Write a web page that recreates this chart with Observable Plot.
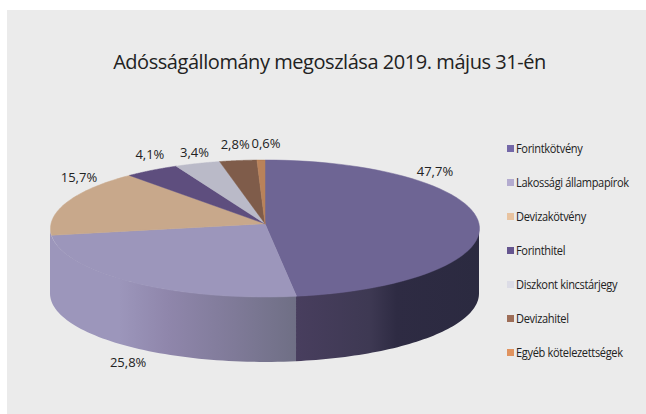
<!DOCTYPE html>
<html lang="hu">
<head>
<meta charset="utf-8">
<script src="https://cdn.jsdelivr.net/npm/d3@7"></script>
<script src="https://cdn.jsdelivr.net/npm/@observablehq/plot@0.6"></script>
<style>
  html, body { margin: 0; padding: 0; background: #fff; }
  #page { position: relative; width: 646px; height: 414px; overflow: hidden; font-family: "Open Sans", sans-serif; color: #222; }
  #panel { position: absolute; left: 7px; top: 10px; right: 0; bottom: 0; background: #ebebeb; }
  #chart { position: absolute; left: 0; top: 0; }
  #title { position: absolute; left: 13px; right: 0; top: 50px; margin: 0; text-align: center; font-size: 20px; font-weight: 400; line-height: 24px; letter-spacing: -0.45px; white-space: nowrap; }
  #legend { position: absolute; left: 507px; top: 131px; margin: 0; padding: 0; list-style: none; }
  #legend li { display: flex; align-items: center; height: 34px; font-size: 13px; letter-spacing: -0.4px; white-space: nowrap; }
  #legend i { display: block; flex: none; width: 7px; height: 7px; margin-right: 2px; }
  #legend span { display: inline-block; transform: scaleX(0.85); transform-origin: left center; }
</style>
</head>
<body>
<div id="page">
  <div id="panel"></div>
  <div id="chart"></div>
  <h1 id="title"></h1>
  <ul id="legend"></ul>
</div>
<script>
const title = "Adósságállomány megoszlása 2019. május 31-én";
const categories = ["Forintkötvény", "Lakossági állampapírok", "Devizakötvény", "Forinthitel", "Diszkont kincstárjegy", "Devizahitel", "Egyéb kötelezettségek"];
const values = [47.7, 25.8, 15.7, 4.1, 3.4, 2.8, 0.6];
const valueLabels = ["47,7%", "25,8%", "15,7%", "4,1%", "3,4%", "2,8%", "0,6%"];
const topColors = ["#6e6594", "#9c96bb", "#c8a88b", "#5e4e7e", "#babac8", "#7f5c4a", "#b9825a"];
const legendColors = ["#7468a8", "#b3abcf", "#e8c3a0", "#65558f", "#dcdce6", "#9e6e58", "#e0935f"];
// label nudge from the slice's mid-arc point, in pixels
const labelDx = [-44, -5, 12, -2, -3, -3, 5];
const labelDy = [-52, 15, -24, -15, -11, -16, -16];

// pie shape in unit space
const wallDepth = 0.955;
const apexY = 0.07;
const total = d3.sum(values);
const cum = d3.cumsum(values);
const ang = s => (s / total) * 2 * Math.PI;
const ends = Array.from(cum, ang);
const starts = [0, ...ends.slice(0, -1)];
const arcX = a => Math.sin(a);
const arcY = a => Math.cos(a);
const samples = (a0, a1) => d3.range(0, 61).map(i => a0 + (a1 - a0) * i / 60);

const topRows = categories.flatMap((c, i) => [
  {c, px: 0, py: apexY},
  ...samples(starts[i], ends[i]).map(a => ({c, px: arcX(a), py: arcY(a)})),
  {c, px: 0, py: apexY}
]);

const wall = (a0, a1) => samples(a0, a1).map(a => ({px: arcX(a), y1: arcY(a), y2: arcY(a) - wallDepth}));
const wallForint = wall(Math.PI / 2, ends[0]);
const wallLakossagi = wall(ends[0], 3 * Math.PI / 2);

const labels = categories.map((c, i) => {
  const m = (starts[i] + ends[i]) / 2;
  const front = i === 1;
  return {text: valueLabels[i], px: arcX(m), py: arcY(m) - (front ? wallDepth : 0), dx: labelDx[i], dy: labelDy[i]};
});

const svg = Plot.plot({
  width: 646,
  height: 414,
  margin: 0,
  style: {background: "transparent", overflow: "visible"},
  x: {axis: null, domain: [-1, 1], range: [50, 479]},
  y: {axis: null, domain: [-1, 1], range: [296.5, 159.5]},
  marks: [
    Plot.areaY(wallForint, {x: "px", y1: "y1", y2: "y2", fill: "url(#wall-forint)"}),
    Plot.areaY(wallLakossagi, {x: "px", y1: "y1", y2: "y2", fill: "url(#wall-lakossagi)"}),
    ...categories.map((c, i) => Plot.line(topRows.filter(d => d.c === c), {
      x: "px", y: "py", fill: topColors[i], stroke: topColors[i], strokeWidth: 0.5
    })),
    ...labels.map(d => Plot.text([d], {
      x: "px", y: "py", text: "text", dx: d.dx, dy: d.dy,
      fontSize: 13, fontFamily: "Open Sans", letterSpacing: -0.75, fill: "#222"
    }))
  ]
});

const gradients = {
  "wall-forint": [[0, "#483e5e"], [0.4, "#3e3953"], [0.55, "#2e2b43"], [1, "#2b2a40"]],
  "wall-lakossagi": [[0, "#6f6f85"], [0.25, "#7f7a98"], [0.52, "#8f86ab"], [0.72, "#9c96bb"], [1, "#9c96bb"]]
};
const defs = d3.select(svg).insert("defs", ":first-child");
defs.append("linearGradient").attr("id", "wall-forint").selectAll("stop")
  .data(gradients["wall-forint"]).join("stop")
  .attr("offset", d => d[0]).attr("stop-color", d => d[1]);
defs.append("linearGradient").attr("id", "wall-lakossagi").attr("x1", 1).attr("x2", 0).selectAll("stop")
  .data(gradients["wall-lakossagi"]).join("stop")
  .attr("offset", d => d[0]).attr("stop-color", d => d[1]);

document.getElementById("chart").append(svg);
document.getElementById("title").textContent = title;
const legend = d3.select("#legend").selectAll("li").data(categories).join("li");
legend.append("i").style("background", (d, i) => legendColors[i]);
legend.append("span").text(d => d);
</script>
</body>
</html>
